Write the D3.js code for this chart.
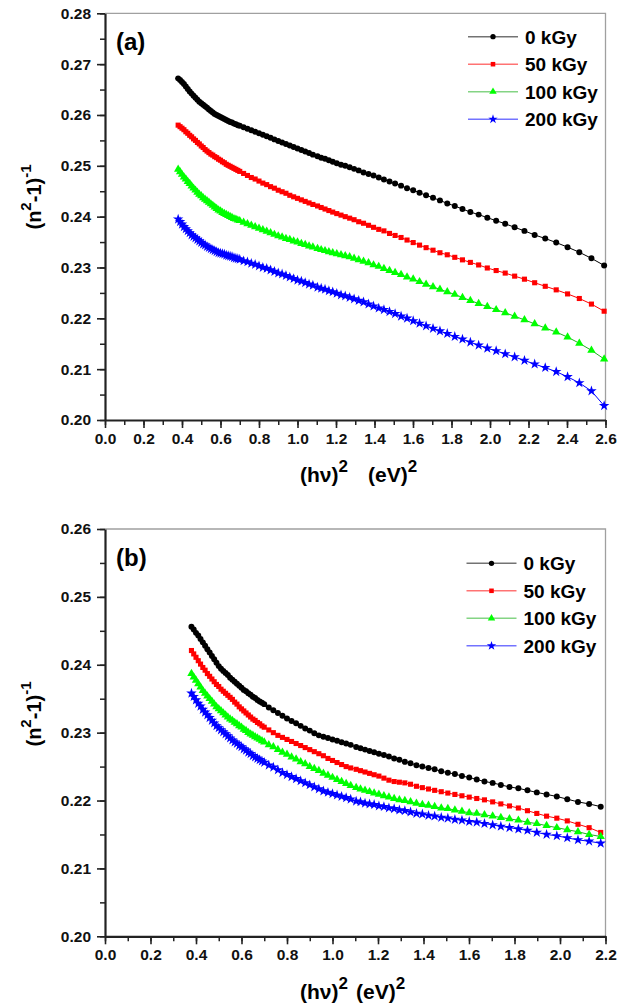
<!DOCTYPE html>
<html>
<head>
<meta charset="utf-8">
<script src="https://cdn.jsdelivr.net/npm/d3@7/dist/d3.min.js"></script>
<style>
  body { margin: 0; background: #fff; }
  svg { display: block; }
</style>
</head>
<body>
<svg id="chart" width="624" height="1008"></svg>
<script>
const font = "'Liberation Sans', Arial, sans-serif";

const seriesNames = ['0 kGy', '50 kGy', '100 kGy', '200 kGy'];

// (hv)^2 sample positions, eV^2
const hv2A = [0.38, 0.39, 0.40, 0.41, 0.42, 0.43, 0.44, 0.45, 0.46, 0.47, 0.48, 0.49, 0.50, 0.51, 0.52, 0.53,
  0.54, 0.55, 0.56, 0.57, 0.58, 0.59, 0.60, 0.61, 0.62, 0.63, 0.64, 0.65, 0.66, 0.67, 0.68, 0.69, 0.70,
  0.72, 0.74, 0.76, 0.78, 0.80, 0.82, 0.84, 0.86, 0.88, 0.90, 0.92, 0.94, 0.96, 0.98, 1.00, 1.02, 1.04,
  1.06, 1.08, 1.104, 1.123, 1.143, 1.163, 1.183, 1.204, 1.226, 1.248, 1.271, 1.294, 1.318, 1.343, 1.369, 1.395,
  1.422, 1.449, 1.478, 1.507, 1.538, 1.569, 1.601, 1.634, 1.668, 1.704, 1.740, 1.778, 1.817, 1.857, 1.898,
  1.941, 1.986, 2.032, 2.079, 2.128, 2.179, 2.232, 2.287, 2.344, 2.403, 2.464, 2.527, 2.593];
const hv2B = hv2A.slice(0, 87);

// panel (a): (n^2-1)^-1
const a0 = [0.2672, 0.2669, 0.2665, 0.2661, 0.2656, 0.2651, 0.2646, 0.2642, 0.2638, 0.2634, 0.2630, 0.2626,
  0.2623, 0.2620, 0.2617, 0.2614, 0.2611, 0.2608, 0.2605, 0.2602, 0.2600, 0.2598, 0.2596, 0.2594, 0.2592,
  0.2590, 0.2588, 0.2586, 0.2585, 0.2583, 0.2582, 0.2580, 0.2579,
  0.2576, 0.2573, 0.2570, 0.2567, 0.2564, 0.2561, 0.2558, 0.2555, 0.2552, 0.2549, 0.2546, 0.2543, 0.2540,
  0.2537, 0.2534, 0.2531, 0.2528, 0.2525, 0.2522,
  0.2519, 0.2516, 0.2514, 0.2511, 0.2508, 0.2505, 0.2502, 0.2500, 0.2497, 0.2494, 0.2491, 0.2487, 0.2484,
  0.2481, 0.2477, 0.2473, 0.2469, 0.2465, 0.2461, 0.2456, 0.2452, 0.2447, 0.2442, 0.2437, 0.2432, 0.2426,
  0.2421, 0.2415, 0.2409, 0.2404, 0.2398, 0.2392, 0.2386, 0.2379, 0.2372, 0.2364, 0.2357, 0.2349, 0.2340,
  0.2330, 0.2318, 0.2304];
const a50 = [0.2580, 0.2577, 0.2574, 0.2571, 0.2567, 0.2564, 0.2560, 0.2557, 0.2553, 0.2550, 0.2546, 0.2543,
  0.2539, 0.2536, 0.2532, 0.2529, 0.2526, 0.2523, 0.2521, 0.2518, 0.2516, 0.2513, 0.2511, 0.2508, 0.2506,
  0.2503, 0.2501, 0.2499, 0.2497, 0.2495, 0.2493, 0.2491, 0.2489,
  0.2485, 0.2481, 0.2477, 0.2474, 0.2470, 0.2466, 0.2463, 0.2459, 0.2456, 0.2452, 0.2449, 0.2446, 0.2442,
  0.2439, 0.2436, 0.2433, 0.2430, 0.2427, 0.2424,
  0.2421, 0.2418, 0.2415, 0.2412, 0.2409, 0.2406, 0.2403, 0.2400, 0.2397, 0.2394, 0.2390, 0.2387, 0.2383,
  0.2379, 0.2375, 0.2372, 0.2367, 0.2363, 0.2359, 0.2354, 0.2349, 0.2344, 0.2339, 0.2334, 0.2329, 0.2325,
  0.2320, 0.2315, 0.2310, 0.2305, 0.2299, 0.2294, 0.2289, 0.2283, 0.2277, 0.2270, 0.2263, 0.2256, 0.2248,
  0.2239, 0.2228, 0.2214];
const a100 = [0.2493, 0.2488, 0.2483, 0.2478, 0.2474, 0.2469, 0.2465, 0.2460, 0.2456, 0.2452, 0.2448, 0.2444,
  0.2441, 0.2437, 0.2434, 0.2431, 0.2428, 0.2425, 0.2422, 0.2419, 0.2416, 0.2413, 0.2411, 0.2408, 0.2406,
  0.2404, 0.2402, 0.2400, 0.2398, 0.2396, 0.2395, 0.2393, 0.2392,
  0.2389, 0.2386, 0.2383, 0.2380, 0.2377, 0.2374, 0.2371, 0.2368, 0.2365, 0.2362, 0.2360, 0.2357, 0.2355,
  0.2352, 0.2350, 0.2347, 0.2345, 0.2342, 0.2340,
  0.2337, 0.2335, 0.2333, 0.2331, 0.2329, 0.2327, 0.2325, 0.2323, 0.2321, 0.2318, 0.2315, 0.2312, 0.2309,
  0.2305, 0.2302, 0.2298, 0.2294, 0.2290, 0.2286, 0.2281, 0.2277, 0.2272, 0.2267, 0.2262, 0.2257, 0.2252,
  0.2247, 0.2241, 0.2235, 0.2229, 0.2223, 0.2217, 0.2211, 0.2204, 0.2197, 0.2189, 0.2181, 0.2173, 0.2163,
  0.2151, 0.2137, 0.2120];
const a200 = [0.2395, 0.2390, 0.2385, 0.2380, 0.2376, 0.2372, 0.2368, 0.2364, 0.2361, 0.2358, 0.2355, 0.2352,
  0.2349, 0.2346, 0.2344, 0.2341, 0.2339, 0.2337, 0.2335, 0.2333, 0.2331, 0.2329, 0.2328, 0.2327, 0.2326,
  0.2324, 0.2323, 0.2322, 0.2321, 0.2319, 0.2318, 0.2317, 0.2316,
  0.2313, 0.2311, 0.2308, 0.2306, 0.2303, 0.2300, 0.2298, 0.2295, 0.2292, 0.2289, 0.2287, 0.2284, 0.2281,
  0.2278, 0.2275, 0.2273, 0.2270, 0.2267, 0.2265,
  0.2261, 0.2259, 0.2257, 0.2254, 0.2252, 0.2249, 0.2246, 0.2244, 0.2241, 0.2238, 0.2235, 0.2232, 0.2228,
  0.2224, 0.2220, 0.2217, 0.2213, 0.2209, 0.2204, 0.2200, 0.2195, 0.2190, 0.2185, 0.2180, 0.2175, 0.2170,
  0.2164, 0.2159, 0.2153, 0.2147, 0.2141, 0.2136, 0.2130, 0.2124, 0.2117, 0.2110, 0.2103, 0.2095, 0.2085,
  0.2073, 0.2057, 0.2028];

// panel (b)
const b0 = [0.2456, 0.2452, 0.2447, 0.2443, 0.2438, 0.2433, 0.2428, 0.2423, 0.2418, 0.2413, 0.2408, 0.2403,
  0.2398, 0.2394, 0.2391, 0.2388, 0.2385, 0.2381, 0.2378, 0.2375, 0.2372, 0.2369, 0.2366, 0.2363, 0.2361,
  0.2358, 0.2356, 0.2353, 0.2351, 0.2348, 0.2346, 0.2344, 0.2342,
  0.2337, 0.2333, 0.2329, 0.2325, 0.2321, 0.2317, 0.2314, 0.2310, 0.2306, 0.2303, 0.2299, 0.2296, 0.2294,
  0.2292, 0.2290, 0.2288, 0.2286, 0.2284, 0.2282,
  0.2279, 0.2277, 0.2275, 0.2273, 0.2271, 0.2269, 0.2267, 0.2265, 0.2262, 0.2260, 0.2257, 0.2255, 0.2252,
  0.2250, 0.2248, 0.2246, 0.2243, 0.2241, 0.2239, 0.2236, 0.2234, 0.2231, 0.2228, 0.2226, 0.2223, 0.2220,
  0.2218, 0.2215, 0.2212, 0.2209, 0.2206, 0.2202, 0.2198, 0.2195, 0.2191];
const b50 = [0.2421, 0.2416, 0.2411, 0.2406, 0.2401, 0.2396, 0.2392, 0.2387, 0.2383, 0.2379, 0.2375, 0.2371,
  0.2368, 0.2364, 0.2361, 0.2358, 0.2355, 0.2352, 0.2349, 0.2345, 0.2342, 0.2338, 0.2335, 0.2332, 0.2329,
  0.2326, 0.2323, 0.2320, 0.2318, 0.2315, 0.2313, 0.2310, 0.2308,
  0.2304, 0.2300, 0.2296, 0.2293, 0.2290, 0.2287, 0.2284, 0.2281, 0.2278, 0.2275, 0.2272, 0.2269, 0.2266,
  0.2262, 0.2259, 0.2256, 0.2253, 0.2250, 0.2248,
  0.2246, 0.2244, 0.2242, 0.2240, 0.2238, 0.2236, 0.2233, 0.2230, 0.2228, 0.2227, 0.2226, 0.2224, 0.2221,
  0.2219, 0.2217, 0.2215, 0.2213, 0.2211, 0.2209, 0.2207, 0.2205, 0.2203, 0.2201, 0.2198, 0.2195, 0.2192,
  0.2189, 0.2185, 0.2181, 0.2177, 0.2174, 0.2170, 0.2165, 0.2160, 0.2153];
const b100 = [0.2387, 0.2382, 0.2377, 0.2372, 0.2367, 0.2362, 0.2358, 0.2354, 0.2350, 0.2346, 0.2342, 0.2338,
  0.2335, 0.2332, 0.2329, 0.2326, 0.2323, 0.2320, 0.2318, 0.2315, 0.2313, 0.2310, 0.2308, 0.2305, 0.2303,
  0.2300, 0.2298, 0.2296, 0.2294, 0.2292, 0.2290, 0.2288, 0.2286,
  0.2282, 0.2279, 0.2275, 0.2271, 0.2268, 0.2264, 0.2261, 0.2257, 0.2254, 0.2250, 0.2247, 0.2244, 0.2240,
  0.2237, 0.2234, 0.2231, 0.2228, 0.2225, 0.2222,
  0.2219, 0.2217, 0.2215, 0.2213, 0.2211, 0.2209, 0.2207, 0.2205, 0.2203, 0.2201, 0.2200, 0.2198, 0.2196,
  0.2194, 0.2193, 0.2191, 0.2189, 0.2188, 0.2186, 0.2184, 0.2182, 0.2181, 0.2179, 0.2177, 0.2175, 0.2173,
  0.2171, 0.2168, 0.2166, 0.2163, 0.2160, 0.2157, 0.2154, 0.2150, 0.2147];
const b200 = [0.2358, 0.2353, 0.2348, 0.2343, 0.2339, 0.2334, 0.2330, 0.2326, 0.2322, 0.2318, 0.2314, 0.2310,
  0.2307, 0.2304, 0.2301, 0.2298, 0.2295, 0.2292, 0.2289, 0.2286, 0.2284, 0.2281, 0.2279, 0.2276, 0.2274,
  0.2271, 0.2269, 0.2266, 0.2264, 0.2262, 0.2260, 0.2258, 0.2256,
  0.2252, 0.2249, 0.2245, 0.2241, 0.2238, 0.2235, 0.2232, 0.2229, 0.2226, 0.2223, 0.2220, 0.2217, 0.2214,
  0.2212, 0.2210, 0.2208, 0.2206, 0.2204, 0.2202,
  0.2199, 0.2198, 0.2196, 0.2195, 0.2194, 0.2192, 0.2191, 0.2189, 0.2188, 0.2186, 0.2185, 0.2183, 0.2181,
  0.2180, 0.2178, 0.2177, 0.2175, 0.2174, 0.2172, 0.2171, 0.2169, 0.2168, 0.2166, 0.2164, 0.2162, 0.2160,
  0.2158, 0.2156, 0.2153, 0.2150, 0.2148, 0.2145, 0.2142, 0.2140, 0.2137];

const xTicksA = [0.0, 0.2, 0.4, 0.6, 0.8, 1.0, 1.2, 1.4, 1.6, 1.8, 2.0, 2.2, 2.4, 2.6];
const yTicksA = [0.20, 0.21, 0.22, 0.23, 0.24, 0.25, 0.26, 0.27, 0.28];
const xTicksB = [0.0, 0.2, 0.4, 0.6, 0.8, 1.0, 1.2, 1.4, 1.6, 1.8, 2.0, 2.2];
const yTicksB = [0.20, 0.21, 0.22, 0.23, 0.24, 0.25, 0.26];

const colors = ['#000000', '#ff0000', '#00ff00', '#0000ff'];
const lineColors = ['#000000', '#ff0000', '#1fb01f', '#0000ff'];
const symbols = [d3.symbolCircle, d3.symbolSquare, d3.symbolTriangle, d3.symbolStar];
const symbolSizes = [28, 26, 30, 34];

const svg = d3.select('#chart');

function styleAxis(sel) {
  sel.attr('font-family', font)
    .attr('font-size', 15.5)
    .attr('font-weight', 'bold');
  sel.selectAll('text').attr('fill', '#111');
  sel.selectAll('line').attr('stroke', '#222').attr('stroke-width', 1.6);
  sel.select('.domain').attr('stroke', '#222').attr('stroke-width', 2.2);
}

function drawPanel(p) {
  const x = d3.scaleLinear().domain(p.xDomain).range([p.left, p.right]);
  const y = d3.scaleLinear().domain(p.yDomain).range([p.bottom, p.top]);
  const g = svg.append('g');

  // thin grey frame on top and right
  g.append('path')
    .attr('d', `M${p.left},${p.top}H${p.right}V${p.bottom}`)
    .attr('fill', 'none')
    .attr('stroke', '#a0a0a0')
    .attr('stroke-width', 1.3);

  // minor ticks
  g.append('g')
    .attr('transform', `translate(0,${p.bottom})`)
    .call(d3.axisBottom(x).tickValues(d3.range(p.xDomain[0], p.xDomain[1] + 0.001, 0.1))
      .tickSize(5).tickFormat(''))
    .call((a) => { a.select('.domain').remove(); a.selectAll('line').attr('stroke', '#222').attr('stroke-width', 1.5); });
  g.append('g')
    .attr('transform', `translate(${p.left},0)`)
    .call(d3.axisLeft(y).tickValues(d3.range(p.yDomain[0], p.yDomain[1] + 0.0001, 0.005))
      .tickSize(5).tickFormat(''))
    .call((a) => { a.select('.domain').remove(); a.selectAll('line').attr('stroke', '#222').attr('stroke-width', 1.5); });

  // major axes
  g.append('g')
    .attr('transform', `translate(0,${p.bottom})`)
    .call(d3.axisBottom(x).tickValues(p.xTicks).tickSize(8).tickSizeOuter(0)
      .tickPadding(5).tickFormat(d3.format('.1f')))
    .call(styleAxis);
  g.append('g')
    .attr('transform', `translate(${p.left},0)`)
    .call(d3.axisLeft(y).tickValues(p.yTicks).tickSize(8).tickSizeOuter(0)
      .tickPadding(6).tickFormat(d3.format('.2f')))
    .call(styleAxis);

  // series
  p.series.forEach((ys, i) => {
    const pts = d3.zip(p.xs, ys);
    g.append('path')
      .datum(pts)
      .attr('fill', 'none')
      .attr('stroke', lineColors[i])
      .attr('stroke-width', 1)
      .attr('d', d3.line().x(d => x(d[0])).y(d => y(d[1])));
    g.append('g')
      .selectAll('path')
      .data(pts)
      .enter()
      .append('path')
      .attr('transform', d => `translate(${x(d[0])},${y(d[1])})`)
      .attr('d', d3.symbol().type(symbols[i]).size(symbolSizes[i]))
      .attr('fill', colors[i]);
  });

  // legend
  const lg = g.append('g').attr('transform', `translate(${p.legendX},${p.legendY})`);
  seriesNames.forEach((name, i) => {
    const row = lg.append('g').attr('transform', `translate(0,${i * 27.5})`);
    row.append('line')
      .attr('x1', 0).attr('x2', 50)
      .attr('stroke', lineColors[i])
      .attr('stroke-opacity', 0.55)
      .attr('stroke-width', 1.6);
    row.append('path')
      .attr('transform', 'translate(25,0)')
      .attr('d', d3.symbol().type(symbols[i]).size(symbolSizes[i] * 0.8))
      .attr('fill', colors[i]);
    row.append('text')
      .attr('x', 57)
      .attr('y', 7)
      .attr('font-family', font)
      .attr('font-size', 19)
      .attr('font-weight', 'bold')
      .text(name);
  });

  // panel letter
  g.append('text')
    .attr('x', p.left + 11)
    .attr('y', p.top + 37)
    .attr('font-family', font)
    .attr('font-size', 24)
    .attr('font-weight', 'bold')
    .text(p.label);

  // y title: (n^2-1)^-1
  const yt = g.append('text')
    .attr('transform', `translate(41,${p.yTitleY}) rotate(-90)`)
    .attr('text-anchor', 'middle')
    .attr('font-family', font)
    .attr('font-size', 20)
    .attr('font-weight', 'bold');
  yt.append('tspan').text('(n');
  yt.append('tspan').attr('font-size', 15).attr('dy', -10).text('2');
  yt.append('tspan').attr('dy', 10).text('-1)');
  yt.append('tspan').attr('font-size', 15).attr('dy', -10).text('-1');

  // x title: (hv)^2 (eV)^2
  const xt = g.append('text')
    .attr('x', 300)
    .attr('y', p.xTitleY)
    .attr('font-family', font)
    .attr('font-size', 21)
    .attr('font-weight', 'bold');
  xt.append('tspan').text('(h\u03bd)');
  xt.append('tspan').attr('font-size', 17).attr('dy', -10).text('2');
  xt.append('tspan').attr('dy', 10).attr('dx', p.xTitleGap).text('(eV)');
  xt.append('tspan').attr('font-size', 17).attr('dy', -10).text('2');
}

drawPanel({
  left: 105, right: 605.5, top: 13.3, bottom: 420,
  xDomain: [0, 2.6], yDomain: [0.20, 0.28],
  xTicks: xTicksA, yTicks: yTicksA,
  xs: hv2A, series: [a0, a50, a100, a200],
  legendX: 468, legendY: 36.7,
  label: '(a)', yTitleY: 197, xTitleY: 482, xTitleGap: 20,
});

drawPanel({
  left: 105, right: 605.5, top: 529, bottom: 936.3,
  xDomain: [0, 2.2], yDomain: [0.20, 0.26],
  xTicks: xTicksB, yTicks: yTicksB,
  xs: hv2B, series: [b0, b50, b100, b200],
  legendX: 466.5, legendY: 563.3,
  label: '(b)', yTitleY: 714, xTitleY: 999, xTitleGap: 8,
});
</script>
</body>
</html>
